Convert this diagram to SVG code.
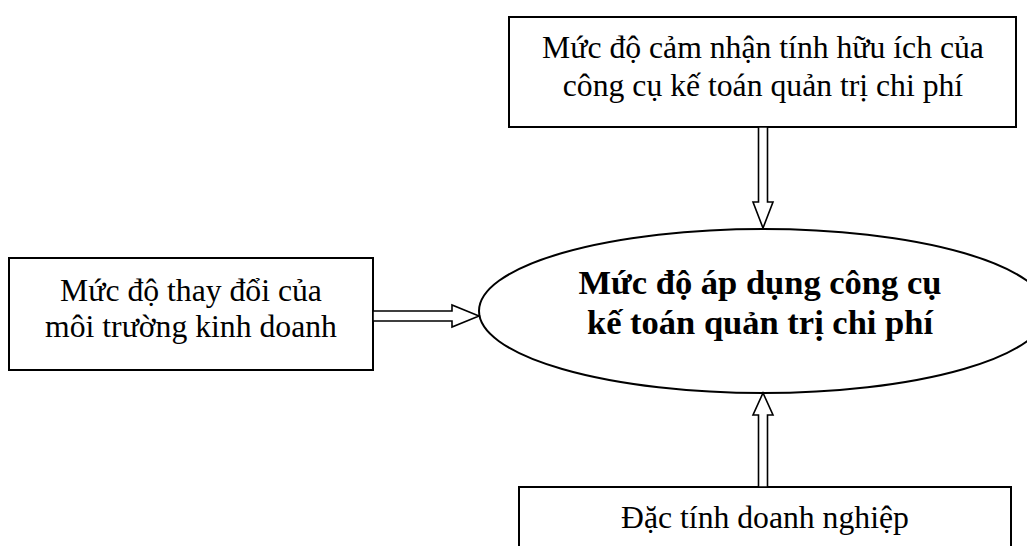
<svg xmlns="http://www.w3.org/2000/svg" width="1027" height="546" viewBox="0 0 1027 546">
<style>
.box{fill:#fff;stroke:#000;stroke-width:2}
.ell{fill:#fff;stroke:#000;stroke-width:2}
.arr{fill:#fff;stroke:#000;stroke-width:1.6;stroke-linejoin:miter}
.t{font-family:"Liberation Serif","Times New Roman",serif;font-size:31.7px;fill:#000;text-anchor:middle}
.b{font-family:"Liberation Serif","Times New Roman",serif;font-size:34.5px;font-weight:bold;fill:#000;text-anchor:middle}
</style>
<rect width="1027" height="546" fill="#fff"/>
<g id="node-top">
<rect class="box" x="509" y="17" width="507" height="110"/>
<text class="t" x="763" y="58">Mức độ cảm nhận tính hữu ích của</text>
<text class="t" x="763" y="96">công cụ kế toán quản trị chi phí</text>
</g>
<g id="node-left">
<rect class="box" x="9" y="258" width="364" height="112"/>
<text class="t" x="191" y="301">Mức độ thay đổi của</text>
<text class="t" x="191" y="337">môi trường kinh doanh</text>
</g>
<g id="node-center">
<ellipse class="ell" cx="763" cy="311" rx="284" ry="82"/>
<text class="b" x="760" y="294">Mức độ áp dụng công cụ</text>
<text class="b" x="760" y="334">kế toán quản trị chi phí</text>
</g>
<g id="node-bottom">
<rect class="box" x="519" y="487" width="492" height="80"/>
<text class="t" x="765" y="528">Đặc tính doanh nghiệp</text>
</g>
<g id="connectors">
<polygon class="arr" points="758.5,127 767.5,127 767.5,202 773,202 763,228 753,202 758.5,202"/>
<polygon class="arr" points="758.5,487 767.5,487 767.5,415 773,415 763,393 753,415 758.5,415"/>
<polygon class="arr" points="373,311 452,311 452,305 479,316 452,327 452,321 373,321"/>
</g>
</svg>
